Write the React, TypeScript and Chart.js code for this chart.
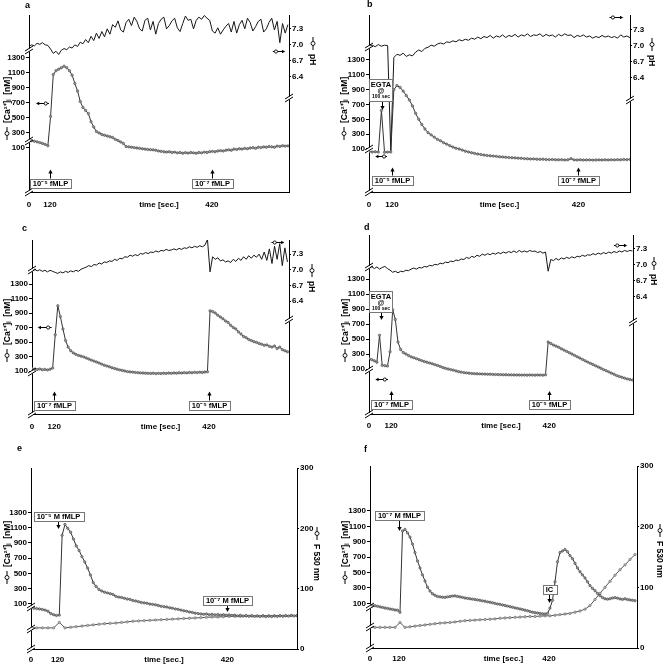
import React, { useEffect, useRef } from 'react';
import { Chart, registerables } from 'chart.js';

Chart.register(...registerables);

// ---------------- tick values / labels ----------------
const CA_TICKS = [100, 300, 500, 700, 900, 1100, 1300];
const PH_TICKS = [6.4, 6.7, 7.0, 7.3];
const F_TICKS = [0, 100, 200, 300];
const EVENT_TIMES = [120, 420];
const X_TITLE = 'time [sec.]';
const LEFT_TITLE = '[Ca²⁺]ᵢ  [nM]';
const PH_TITLE = 'pH';
const F_TITLE = 'F 530 nm';

// ---------------- panel a (sampled every 5 s from t = 81) ----------------
const A_T0 = 81;
const A_DT = 5;
const A_CA = [
  205, 198, 190, 182, 172, 160, 148, 130, 520, 1080,
  1130, 1150, 1170, 1190, 1170, 1130, 1070, 960, 860, 720,
  640, 600, 560, 450, 380, 320, 300, 280, 270, 260,
  250, 240, 215, 200, 180, 160, 120, 115, 110, 105,
  100, 95, 90, 85, 80, 78, 75, 70, 60, 55,
  50, 45, 50, 40, 45, 35, 40, 30, 38, 32,
  40, 35, 30, 40, 35, 45, 40, 50, 55, 50,
  60, 65, 60, 70, 75, 70, 85, 80, 90, 85,
  95, 90, 100, 105, 95, 110, 105, 115, 110, 120,
  115, 110, 125, 120, 130, 125, 128,
];
const A_PH = [
  6.97, 7.0, 6.98, 7.03, 7.01, 7.04, 7.0, 6.99, 6.92, 6.84,
  6.88, 6.82, 6.9, 6.93, 6.91, 6.96, 6.94, 7.0, 6.97, 7.05,
  7.02, 7.1, 7.04, 7.16, 7.08, 7.22, 7.12, 7.25, 7.15, 7.3,
  7.2, 7.38, 7.33, 7.45, 7.28, 7.24, 7.42, 7.48, 7.36, 7.52,
  7.44, 7.3, 7.26, 7.46, 7.5, 7.28, 7.44, 7.2, 7.4, 7.48,
  7.52, 7.3, 7.36, 7.45, 7.5, 7.32, 7.25, 7.4, 7.54, 7.46,
  7.48, 7.3, 7.46, 7.52, 7.48, 7.55, 7.5, 7.46, 7.26, 7.22,
  7.32, 7.2, 7.28, 7.35, 7.4, 7.24, 7.44, 7.22, 7.38, 7.46,
  7.3, 7.5, 7.42, 7.26, 7.34, 7.44, 7.48, 7.24, 7.3, 7.42,
  7.5, 7.28, 7.44, 7.04, 7.4, 7.22, 7.38,
];

// ---------------- panel b (every 5 s from t = 83) ----------------
const B_T0 = 83;
const B_DT = 5;
const B_CA = [
  65, 60, 62, 58, 620, 55, 58, 60, 900, 955,
  930, 880, 820, 760, 680, 580, 500, 430, 370, 320,
  290, 260, 230, 210, 185, 165, 145, 125, 110, 100,
  85, 70, 60, 50, 40, 32, 25, 18, 12, 8,
  4, 0, -5, -8, -12, -15, -18, -20, -24, -26,
  -30, -32, -35, -34, -38, -40, -38, -42, -44, -42,
  -45, -46, -44, -48, -46, -30, -47, -48, -46, -49,
  -48, -47, -50, -48, -47, -49, -46, -48, -45, -47,
  -44, -46, -42, -44, -40,
];
const B_PH = [
  6.99, 7.01, 6.98, 7.02, 6.99, 7.01, 7.0, 5.05, 6.78, 6.84,
  6.82, 6.86, 6.8, 6.83, 6.81, 6.88, 6.92, 6.89, 6.95, 6.97,
  7.01, 6.99, 7.03, 7.05, 7.03, 7.07, 7.06, 7.09, 7.07, 7.11,
  7.09, 7.12, 7.1, 7.14, 7.12, 7.16, 7.13, 7.17, 7.15, 7.19,
  7.14, 7.18, 7.16, 7.2, 7.15, 7.19, 7.17, 7.21, 7.16, 7.2,
  7.18, 7.22, 7.17, 7.2, 7.19, 7.22, 7.17, 7.21, 7.18, 7.2,
  7.16, 7.21, 7.18, 7.22, 7.19, 7.2, 7.15, 7.19, 7.17, 7.2,
  7.16, 7.18, 7.14, 7.17, 7.15, 7.19, 7.16, 7.18, 7.15, 7.17,
  7.14, 7.2, 7.16, 7.18, 7.15,
];

// ---------------- panel c (every 5 s from t = 77) ----------------
const C_T0 = 77;
const C_DT = 5;
const C_CA = [
  136, 125, 120, 128, 118, 122, 115, 125, 140, 600,
  1000, 850, 680, 520, 430, 380, 350, 330, 315, 305,
  295, 280, 265, 250, 237, 225, 210, 195, 180, 170,
  158, 145, 135, 125, 115, 108, 100, 92, 88, 85,
  80, 78, 74, 72, 70, 68, 66, 70, 64, 68,
  65, 70, 66, 72, 68, 74, 70, 76, 72, 78,
  74, 80, 76, 82, 78, 84, 80, 86, 90, 930,
  920, 900, 870, 845, 820, 790, 770, 730, 700, 680,
  640, 610, 575, 560, 535, 520, 505, 495, 480, 470,
  455, 460, 440, 430, 445, 410, 430, 395, 380, 365,
];
const C_PH = [
  6.99, 7.01, 6.98, 7.0, 6.97, 6.99, 6.96, 6.99, 6.97, 6.95,
  6.93, 6.96, 6.94, 6.97, 6.95, 6.98, 6.96, 6.99, 6.97, 7.01,
  7.03, 7.05, 7.08, 7.06, 7.1, 7.09, 7.13, 7.11, 7.15, 7.14,
  7.17, 7.16, 7.2, 7.18, 7.22, 7.21, 7.25, 7.24, 7.28, 7.26,
  7.29, 7.27, 7.31, 7.3, 7.33, 7.31, 7.34, 7.33, 7.36, 7.34,
  7.37, 7.36, 7.39, 7.37, 7.38, 7.4, 7.38, 7.41, 7.39, 7.42,
  7.41, 7.44, 7.42, 7.45, 7.43, 7.46, 7.44, 7.47, 7.58, 6.96,
  7.25, 7.2, 7.23, 7.17, 7.19, 7.15, 7.17, 7.14, 7.2, 7.16,
  7.22, 7.18, 7.25, 7.2, 7.27, 7.22, 7.28, 7.24, 7.3, 7.2,
  7.34, 7.18, 7.4, 7.12, 7.45, 7.2, 7.5, 7.08, 7.42, 7.15,
];

// ---------------- panel d (every 5 s from t = 78) ----------------
const D_T0 = 78;
const D_DT = 5;
const D_CA = [
  240, 225, 210, 190, 550, 150, 145, 140, 330, 890,
  760, 460, 360, 320, 300, 280, 262, 250, 238, 225,
  212, 200, 190, 180, 170, 158, 148, 135, 120, 110,
  100, 92, 85, 75, 65, 58, 52, 48, 44, 40,
  38, 36, 35, 33, 32, 30, 30, 28, 27, 26,
  25, 24, 24, 22, 22, 21, 20, 20, 19, 20,
  18, 20, 19, 18, 20, 19, 18, 22, 460, 440,
  420, 405, 390, 370, 352, 335, 318, 300, 282, 264,
  246, 228, 210, 192, 176, 160, 143, 127, 110, 92,
  78, 62, 45, 30, 12, 0, -10, -22, -32, -40,
  -47,
];
const D_PH = [
  6.94, 6.97, 6.93, 6.96, 6.92, 6.95, 6.97, 6.93, 6.9, 6.86,
  6.88, 6.85, 6.88, 6.87, 6.9, 6.89, 6.92, 6.94, 6.92, 6.95,
  6.94, 6.97, 6.96, 6.99, 6.98, 7.01, 7.0, 7.03, 7.02, 7.05,
  7.04, 7.07, 7.06, 7.09, 7.08, 7.11, 7.1, 7.14, 7.12, 7.16,
  7.14, 7.18, 7.16, 7.2, 7.18, 7.21, 7.19, 7.22, 7.2, 7.23,
  7.21, 7.24, 7.22, 7.25, 7.23, 7.26, 7.23, 7.27, 7.24, 7.26,
  7.24, 7.27, 7.25, 7.26, 7.23, 7.25, 7.22, 7.24, 6.88, 7.1,
  7.08, 7.12, 7.09, 7.13, 7.11, 7.14, 7.12, 7.15, 7.13, 7.16,
  7.15, 7.18, 7.16, 7.19, 7.18, 7.21, 7.19, 7.22, 7.2, 7.23,
  7.21, 7.24, 7.22, 7.25, 7.23, 7.26, 7.24, 7.27, 7.25, 7.27,
  7.26,
];

// ---------------- panel e ([Ca] every 5 s, F530 every 10 s, from t = 73) ----------------
const E_T0 = 73;
const E_DT = 5;
const E_CA = [
  50, 45, 40, 35, 28, 20, 5, -25, -40, -50,
  -45, 1000, 1140, 1090, 1040, 950, 860, 800, 720, 650,
  570, 480, 380, 330, 290, 270, 255, 245, 235, 225,
  200, 190, 185, 175, 165, 160, 145, 140, 130, 120,
  115, 110, 100, 95, 90, 80, 70, 65, 60, 50,
  45, 35, 30, 20, 12, 5, -5, -10, -20, -25,
  -30, -35, -30, -40, -35, -42, -38, -45, -40, -48,
  -42, -50, -45, -55, -48, -58, -50, -60, -52, -62,
  -55, -64, -56, -66, -58, -65, -56, -62, -54, -60,
  -52, -58, -50, -56, -52,
];
const E_F_DT = 10;
const E_F = [
  35, 35, 35, 35, 35, 44, 35, 36, 37, 38,
  39, 40, 41, 42, 42.5, 43, 44, 45, 46, 46.5,
  47, 47.5, 48, 48.5, 49, 49.5, 50, 50.5, 51, 51.5,
  52, 52.5, 53, 53, 53.5, 54, 54, 54, 54.5, 54.5,
  54.5, 55, 55, 55, 55, 55, 55.5, 55.5,
];

// ---------------- panel f ([Ca] every 5 s, F530 every 10 s, from t = 62) ----------------
const F_T0 = 62;
const F_DT = 5;
const F_CA = [
  78, 72, 70, 62, 55, 48, 40, 35, 28, 22,
  15, 12, -15, 1040, 1060, 1015, 960, 870, 760, 650,
  560, 470, 390, 310, 260, 225, 205, 190, 185, 180,
  178, 185, 190, 195, 198, 190, 185, 178, 170, 165,
  160, 155, 150, 145, 140, 133, 128, 120, 115, 108,
  100, 92, 88, 80, 72, 65, 58, 50, 42, 35,
  28, 20, 12, 5, -5, -15, -20, -25, -30, -35,
  -38, -30, 40, 140, 380, 640, 760, 780, 800, 770,
  720, 680, 620, 560, 510, 470, 430, 380, 330, 295,
  265, 230, 200, 175, 160, 155, 160, 170, 175, 168,
  158, 152, 160, 150, 145, 140, 135,
];
const F_F_DT = 10;
const F_F = [
  34, 34, 34, 34, 34, 34, 42, 34, 35, 36,
  37, 38, 39, 40, 41, 41.5, 42, 43, 44, 45,
  45.5, 46, 46.5, 47, 47.5, 48, 49, 49.5, 50, 50.5,
  51, 51.5, 52, 52, 52.5, 53, 53, 54, 55, 56,
  57, 59, 61, 64, 70, 80, 90, 100, 110, 120,
  129, 137, 146, 154,
];

// ---------------- layout / style ----------------
const W = 332;
const H = 222;
const RW = 30;
const XH = 28;
const FONT = "'Liberation Sans', Arial, sans-serif";
const FS = 8;
const LH = FS * 1.2;

type Trace = { t0: number; dt: number; values: number[] };
type Box = { t: number; y: number; text: string; dir: 'up' | 'down'; len: number };
type Pointer = { t1: number; t2: number; y: number };
type PanelCfg = {
  letter: string;
  pos: [number, number];
  plot: [number, number, number, number];
  xRange: [number, number];
  caRange: [number, number];
  rRange: [number, number];
  rKind: 'ph' | 'f';
  ca: Trace;
  r: Trace;
  xLabelOff: number;
  letterPos: [number, number];
  leftTitle: [number, number];
  rightTitle: [number, number];
  breaksL: number[];
  breaksR: number[];
  boxes: Box[];
  egta?: { tEnd: number; y1: number; y2: number; tArrow: number; len: number };
  pointers: Pointer[];
};

const PANELS: PanelCfg[] = [
  {
    letter: 'a', pos: [0, 0], plot: [29, 15, 289, 192], xRange: [81, 563],
    caRange: [-487, 1873], rRange: [4.24, 7.56], rKind: 'ph',
    ca: { t0: A_T0, dt: A_DT, values: A_CA }, r: { t0: A_T0, dt: A_DT, values: A_PH },
    xLabelOff: 13, letterPos: [25, 6], leftTitle: [7, 140], rightTitle: [313, 37],
    breaksL: [50, 141, 192], breaksR: [98],
    boxes: [
      { t: 120, y: 183, text: '10⁻⁵ fMLP', dir: 'up', len: 9 },
      { t: 420, y: 183, text: '10⁻⁷ fMLP', dir: 'up', len: 9 },
    ],
    pointers: [{ t1: 118, t2: 94, y: 103 }, { t1: 533, t2: 556, y: 51 }],
  },
  {
    letter: 'b', pos: [332, 0], plot: [37, 15, 298, 192], xRange: [83, 503],
    caRange: [-480, 1906], rRange: [4.28, 7.57], rKind: 'ph',
    ca: { t0: B_T0, dt: B_DT, values: B_CA }, r: { t0: B_T0, dt: B_DT, values: B_PH },
    xLabelOff: 13, letterPos: [35, 5], leftTitle: [12, 140], rightTitle: [320, 38],
    breaksL: [47, 149, 192], breaksR: [100],
    boxes: [
      { t: 120, y: 180, text: '10⁻⁵ fMLP', dir: 'up', len: 8 },
      { t: 420, y: 180, text: '10⁻⁷ fMLP', dir: 'up', len: 8 },
    ],
    egta: { tEnd: 120, y1: 79, y2: 101, tArrow: 104, len: 9 },
    pointers: [{ t1: 112, t2: 93, y: 156 }, { t1: 470, t2: 492, y: 17 }],
  },
  {
    letter: 'c', pos: [0, 222], plot: [32, 18, 289, 192], xRange: [77, 575],
    caRange: [-493, 1907], rRange: [4.24, 7.57], rKind: 'ph',
    ca: { t0: C_T0, dt: C_DT, values: C_CA }, r: { t0: C_T0, dt: C_DT, values: C_PH },
    xLabelOff: 13, letterPos: [22, 7], leftTitle: [7, 140], rightTitle: [312, 42],
    breaksL: [48, 150, 192], breaksR: [98],
    boxes: [
      { t: 120, y: 183, text: '10⁻⁷ fMLP', dir: 'up', len: 9 },
      { t: 420, y: 183, text: '10⁻⁵ fMLP', dir: 'up', len: 9 },
    ],
    pointers: [{ t1: 115, t2: 88, y: 105 }, { t1: 541, t2: 566, y: 20 }],
  },
  {
    letter: 'd', pos: [332, 222], plot: [37, 13, 301, 192], xRange: [78, 579],
    caRange: [-500, 1887], rRange: [4.2, 7.56], rKind: 'ph',
    ca: { t0: D_T0, dt: D_DT, values: D_CA }, r: { t0: D_T0, dt: D_DT, values: D_PH },
    xLabelOff: 12, letterPos: [32, 6], leftTitle: [13, 140], rightTitle: [322, 35],
    breaksL: [45, 148, 192], breaksR: [100],
    boxes: [
      { t: 120, y: 182.5, text: '10⁻⁷ fMLP', dir: 'up', len: 9 },
      { t: 420, y: 182.5, text: '10⁻⁵ fMLP', dir: 'up', len: 9 },
    ],
    egta: { tEnd: 122, y1: 69, y2: 90, tArrow: 101, len: 8 },
    pointers: [{ t1: 114, t2: 90, y: 157 }, { t1: 543, t2: 568, y: 23 }],
  },
  {
    letter: 'e', pos: [0, 444], plot: [31, 24, 297, 205], xRange: [73, 543],
    caRange: [-489, 1880], rRange: [0, 300], rKind: 'f',
    ca: { t0: E_T0, dt: E_DT, values: E_CA }, r: { t0: E_T0, dt: E_F_DT, values: E_F },
    xLabelOff: 11, letterPos: [17, 5], leftTitle: [7, 140], rightTitle: [317, 83],
    breaksL: [163, 185, 205], breaksR: [],
    boxes: [
      { t: 120, y: 72.5, text: '10⁻⁵ M fMLP', dir: 'down', len: 8 },
      { t: 420, y: 156.5, text: '10⁻⁷ M fMLP', dir: 'down', len: 7 },
    ],
    pointers: [],
  },
  {
    letter: 'f', pos: [332, 444], plot: [38, 22, 305, 204], xRange: [62, 596],
    caRange: [-479, 1883], rRange: [0, 300], rKind: 'f',
    ca: { t0: F_T0, dt: F_DT, values: F_CA }, r: { t0: F_T0, dt: F_F_DT, values: F_F },
    xLabelOff: 11, letterPos: [32, 6], leftTitle: [13, 140], rightTitle: [328, 80],
    breaksL: [163, 183, 204], breaksR: [],
    boxes: [
      { t: 120, y: 71.5, text: '10⁻⁷ M fMLP', dir: 'down', len: 11 },
      { t: 420, y: 145.5, text: 'IC', dir: 'down', len: 9 },
    ],
    pointers: [],
  },
];

const toPoints = (tr: Trace) => tr.values.map((v, i) => ({ x: tr.t0 + i * tr.dt, y: v }));

// ---------------- drawing helpers ----------------
function drawBreak(ctx: CanvasRenderingContext2D, x: number, y: number) {
  ctx.save();
  ctx.fillStyle = '#fff';
  ctx.fillRect(x - 1.5, y - 1.5, 3, 3);
  ctx.strokeStyle = '#000';
  ctx.lineWidth = 1;
  ctx.beginPath();
  ctx.moveTo(x - 4, y + 1);
  ctx.lineTo(x + 4, y - 4);
  ctx.moveTo(x - 4, y + 4);
  ctx.lineTo(x + 4, y - 1);
  ctx.stroke();
  ctx.restore();
}

function drawArrow(ctx: CanvasRenderingContext2D, x1: number, y1: number, x2: number, y2: number, head = 3) {
  const ang = Math.atan2(y2 - y1, x2 - x1);
  const c = Math.cos(ang);
  const s = Math.sin(ang);
  ctx.save();
  ctx.strokeStyle = '#000';
  ctx.fillStyle = '#000';
  ctx.lineWidth = 1;
  ctx.beginPath();
  ctx.moveTo(x1, y1);
  ctx.lineTo(x2 - c * head * 0.8, y2 - s * head * 0.8);
  ctx.stroke();
  ctx.beginPath();
  ctx.moveTo(x2, y2);
  ctx.lineTo(x2 - c * head * 1.3 + s * head * 0.7, y2 - s * head * 1.3 - c * head * 0.7);
  ctx.lineTo(x2 - c * head * 1.3 - s * head * 0.7, y2 - s * head * 1.3 + c * head * 0.7);
  ctx.closePath();
  ctx.fill();
  ctx.restore();
}

function drawCircle(ctx: CanvasRenderingContext2D, x: number, y: number, r: number) {
  ctx.save();
  ctx.beginPath();
  ctx.arc(x, y, r, 0, Math.PI * 2);
  ctx.fillStyle = '#fff';
  ctx.fill();
  ctx.strokeStyle = '#000';
  ctx.lineWidth = 0.9;
  ctx.stroke();
  ctx.restore();
}

function drawBox(ctx: CanvasRenderingContext2D, cx: number, cy: number, text: string) {
  ctx.save();
  ctx.font = `bold 7.5px ${FONT}`;
  const w = Math.round(ctx.measureText(text).width + 6);
  const h = 9;
  const x0 = Math.round(cx - w / 2) + 0.5;
  const y0 = Math.round(cy - h / 2) + 0.5;
  ctx.fillStyle = '#fff';
  ctx.fillRect(x0, y0, w, h);
  ctx.strokeStyle = '#777';
  ctx.lineWidth = 1;
  ctx.strokeRect(x0, y0, w, h);
  ctx.fillStyle = '#000';
  ctx.textAlign = 'center';
  ctx.textBaseline = 'middle';
  ctx.fillText(text, cx, cy + 0.5);
  ctx.restore();
}

function drawVTitle(ctx: CanvasRenderingContext2D, x: number, y0: number, dir: number, text: string) {
  ctx.save();
  ctx.translate(x, y0);
  ctx.rotate(dir < 0 ? -Math.PI / 2 : Math.PI / 2);
  ctx.strokeStyle = '#000';
  ctx.lineWidth = 1;
  ctx.beginPath();
  ctx.moveTo(0, 0);
  ctx.lineTo(13, 0);
  ctx.stroke();
  drawCircle(ctx, 6.5, 0, 2);
  ctx.fillStyle = '#000';
  ctx.font = `bold 8.5px ${FONT}`;
  ctx.textAlign = 'left';
  ctx.textBaseline = 'middle';
  ctx.fillText(text, 17, 0.5);
  ctx.restore();
}

const annotPlugin = (p: PanelCfg) => ({
  id: 'annot_' + p.letter,
  afterDraw(chart: any) {
    const ctx: CanvasRenderingContext2D = chart.ctx;
    const area = chart.chartArea;
    const xs = chart.scales.x;
    ctx.save();
    p.breaksL.forEach((y) => drawBreak(ctx, area.left, y));
    p.breaksR.forEach((y) => drawBreak(ctx, area.right, y));

    ctx.fillStyle = '#000';
    ctx.font = `bold 9px ${FONT}`;
    ctx.textAlign = 'left';
    ctx.textBaseline = 'middle';
    ctx.fillText(p.letter, p.letterPos[0], p.letterPos[1]);

    drawVTitle(ctx, p.leftTitle[0], p.leftTitle[1], -1, LEFT_TITLE);
    drawVTitle(ctx, p.rightTitle[0], p.rightTitle[1], 1, p.rKind === 'ph' ? PH_TITLE : F_TITLE);

    p.boxes.forEach((b) => {
      const x = Math.round(xs.getPixelForValue(b.t)) + 0.5;
      const top = b.y - 4.5;
      const bot = b.y + 4.5;
      if (b.dir === 'up') drawArrow(ctx, x, top, x, top - b.len);
      else drawArrow(ctx, x, bot, x, bot + b.len);
      drawBox(ctx, x, b.y, b.text);
    });

    if (p.egta) {
      const e = p.egta;
      const x1 = area.left + 0.5;
      const x2 = Math.round(xs.getPixelForValue(e.tEnd)) + 0.5;
      const xa = Math.round(xs.getPixelForValue(e.tArrow)) + 0.5;
      drawArrow(ctx, xa, e.y2, xa, e.y2 + e.len);
      ctx.fillStyle = '#fff';
      ctx.fillRect(x1, e.y1 + 0.5, x2 - x1, e.y2 - e.y1);
      ctx.strokeStyle = '#777';
      ctx.lineWidth = 1;
      ctx.strokeRect(x1, e.y1 + 0.5, x2 - x1, e.y2 - e.y1);
      const cx = (x1 + x2) / 2;
      ctx.fillStyle = '#000';
      ctx.textAlign = 'center';
      ctx.textBaseline = 'middle';
      ctx.font = `bold 7.5px ${FONT}`;
      ctx.fillText('EGTA', cx, e.y1 + 6);
      ctx.font = `bold 7px ${FONT}`;
      ctx.fillText('@', cx, e.y1 + 12);
      ctx.font = `bold 5px ${FONT}`;
      ctx.fillText('100 sec', cx, e.y1 + 18);
    }

    p.pointers.forEach((pt) => {
      const x1 = xs.getPixelForValue(pt.t1);
      const x2 = xs.getPixelForValue(pt.t2);
      const y = Math.round(pt.y) + 0.5;
      drawArrow(ctx, x1, y, x2, y, 2.5);
      drawCircle(ctx, x1 + (x2 - x1) * 0.25, y, 1.6);
    });
    ctx.restore();
  },
});

const caStyle = {
  borderColor: '#333', borderWidth: 1, tension: 0, fill: false,
  pointRadius: 1.2, pointStyle: 'circle', pointBackgroundColor: '#9a9a9a',
  pointBorderColor: '#484848', pointBorderWidth: 0.6,
};
const phStyle = { borderColor: '#161616', borderWidth: 1, tension: 0, fill: false, pointRadius: 0 };
const fStyle = {
  borderColor: '#555', borderWidth: 1, tension: 0, fill: false,
  pointRadius: 1.2, pointStyle: 'circle', pointBackgroundColor: '#bdbdbd',
  pointBorderColor: '#666', pointBorderWidth: 0.6,
};

function buildConfig(p: PanelCfg): any {
  const [pl, pt, pr, pb] = p.plot;
  const [xMin, xMax] = p.xRange;
  const tickFont = { family: FONT, size: FS, weight: 'bold', lineHeight: 1.2 };
  const fit = (w?: number, h?: number) => (s: any) => {
    if (w !== undefined) s.width = w;
    if (h !== undefined) s.height = h;
    s.paddingTop = 0;
    s.paddingBottom = 0;
    s.paddingLeft = 0;
    s.paddingRight = 0;
  };
  const rTicks = p.rKind === 'ph' ? PH_TICKS : F_TICKS;
  return {
    type: 'line',
    data: {
      datasets: [
        { label: 'Ca', data: toPoints(p.ca), yAxisID: 'yL', xAxisID: 'x', ...caStyle },
        { label: p.rKind, data: toPoints(p.r), yAxisID: 'yR', xAxisID: 'x', ...(p.rKind === 'ph' ? phStyle : fStyle) },
      ],
    },
    options: {
      responsive: false,
      animation: false,
      events: [],
      layout: { padding: { left: 0, top: pt, right: W - pr - RW, bottom: H - pb - XH } },
      plugins: { legend: { display: false }, tooltip: { enabled: false } },
      scales: {
        x: {
          type: 'linear', axis: 'x', position: 'bottom', min: xMin, max: xMax,
          afterBuildTicks: (s: any) => { s.ticks = [xMin, ...EVENT_TIMES].map((v) => ({ value: v })); },
          afterFit: fit(undefined, XH),
          ticks: {
            autoSkip: false, maxRotation: 0, minRotation: 0, padding: p.xLabelOff - LH / 2,
            font: tickFont, color: '#000',
            callback: (v: number) => (v === xMin ? '0' : String(v)),
          },
          grid: { display: false, drawTicks: false, tickLength: 0 },
          border: { display: true, color: '#000', width: 1 },
          title: {
            display: true, text: X_TITLE, color: '#000', font: tickFont,
            padding: { top: 0, bottom: XH - p.xLabelOff - LH / 2 },
          },
        },
        yL: {
          type: 'linear', axis: 'y', position: 'left', min: p.caRange[0], max: p.caRange[1],
          afterBuildTicks: (s: any) => { s.ticks = CA_TICKS.map((v) => ({ value: v })); },
          afterFit: fit(pl),
          ticks: { autoSkip: false, font: tickFont, color: '#000', padding: 1, callback: (v: number) => String(v) },
          grid: { display: true, drawOnChartArea: false, drawTicks: true, tickLength: 3, color: '#000', lineWidth: 1 },
          border: { display: true, color: '#000', width: 1 },
        },
        yR: {
          type: 'linear', axis: 'y', position: 'right', min: p.rRange[0], max: p.rRange[1],
          afterBuildTicks: (s: any) => { s.ticks = rTicks.map((v) => ({ value: v })); },
          afterFit: fit(RW),
          ticks: {
            autoSkip: false, font: tickFont, color: '#000', padding: 1,
            callback: (v: number) => (p.rKind === 'ph' ? v.toFixed(1) : String(v)),
          },
          grid: { display: true, drawOnChartArea: false, drawTicks: true, tickLength: 2, color: '#000', lineWidth: 1 },
          border: { display: true, color: '#000', width: 1 },
        },
      },
    },
    plugins: [annotPlugin(p)],
  };
}

function Panel({ p }: { p: PanelCfg }) {
  const ref = useRef<HTMLCanvasElement>(null);
  useEffect(() => {
    if (!ref.current) return;
    const chart = new Chart(ref.current, buildConfig(p));
    return () => chart.destroy();
  }, [p]);
  return (
    <canvas
      ref={ref}
      width={W}
      height={H}
      style={{ position: 'absolute', left: p.pos[0], top: p.pos[1], width: W, height: H, display: 'block' }}
    />
  );
}

export default function App() {
  return (
    <div style={{ position: 'absolute', left: 0, top: 0, width: 664, height: 666, background: '#fff', overflow: 'hidden' }}>
      {PANELS.map((p) => (
        <Panel key={p.letter} p={p} />
      ))}
    </div>
  );
}
